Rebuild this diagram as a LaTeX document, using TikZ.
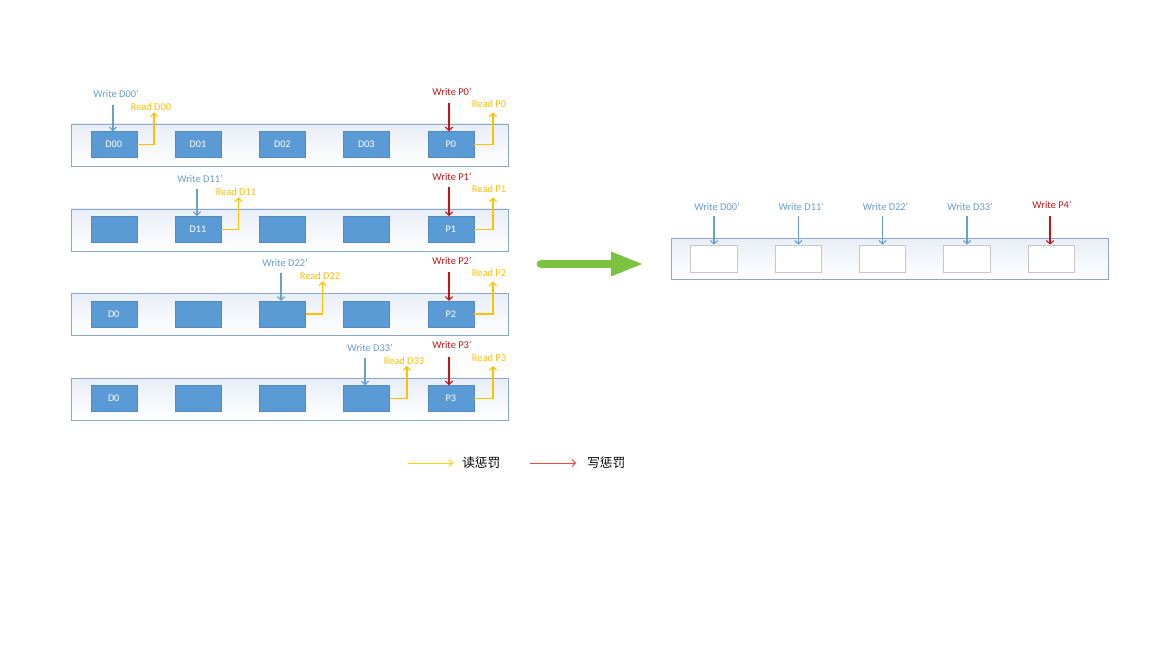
\documentclass[tikz,border=0pt]{standalone}
\usepackage{fontspec}
\setmainfont{Carlito}
\newfontfamily\cjk{Noto Sans CJK SC}
\usetikzlibrary{arrows.meta,calc}
\definecolor{boxblue}{RGB}{91,155,213}
\definecolor{wblue}{RGB}{104,158,208}
\definecolor{rorange}{RGB}{255,192,0}
\definecolor{wred}{RGB}{200,20,20}
\definecolor{frame}{RGB}{140,168,204}
\definecolor{garrow}{RGB}{126,194,66}
\definecolor{shadetop}{RGB}{232,238,246}
\tikzset{
  rowbox/.style={draw=frame, line width=0.7pt, top color=shadetop, bottom color=white, minimum width=327.75pt, minimum height=31.5pt, inner sep=0pt},
  dbox/.style={fill=boxblue, draw=boxblue!90!black, line width=0.3pt, minimum width=34.5pt, minimum height=19.5pt, inner sep=0pt, text=white, font=\fontsize{7.6}{8}\selectfont},
  ebox/.style={fill=white, draw=black!22, line width=0.7pt, minimum width=35pt, minimum height=20.5pt, inner sep=0pt},
  lab/.style={font=\fontsize{7.8}{8.5}\selectfont, inner sep=0.5pt},
  wlab/.style={lab, text=wblue},
  rlab/.style={lab, text=rorange},
  plab/.style={lab, text=wred},
  tip/.style={-{Straight Barb[length=2.6pt,width=5.5pt]}},
  warr/.style={tip, color=wblue, line width=0.8pt},
  parr/.style={tip, color=wred, line width=0.8pt},
  rarr/.style={tip, color=rorange, line width=0.8pt},
}
\begin{document}
\begin{tikzpicture}[x=0.75pt,y=-0.75pt]
\useasboundingbox (0,0) rectangle (1152,648);
\fill[white] (0,0) rectangle (1152,648);
% rows
\node[rowbox] (r1) at (289.5,145) {};
\node[rowbox] (r2) at (289.5,230) {};
\node[rowbox] (r3) at (289.5,314.5) {};
\node[rowbox] (r4) at (289.5,399) {};
% row 1
\node[dbox] (b11) at (113.7,144.5) {D00};
\node[dbox] (b12) at (198,144.5) {D01};
\node[dbox] (b13) at (282.3,144.5) {D02};
\node[dbox] (b14) at (366.3,144.5) {D03};
\node[dbox] (b15) at (450.7,144.5) {P0};
% row 2
\node[dbox] (b21) at (113.7,229.2) {};
\node[dbox] (b22) at (198,229.2) {D11};
\node[dbox] (b23) at (282.3,229.2) {};
\node[dbox] (b24) at (366.3,229.2) {};
\node[dbox] (b25) at (450.7,229.2) {P1};
% row 3
\node[dbox] (b31) at (113.7,314) {D0};
\node[dbox] (b32) at (198,314) {};
\node[dbox] (b33) at (282.3,314) {};
\node[dbox] (b34) at (366.3,314) {};
\node[dbox] (b35) at (450.7,314) {P2};
% row 4
\node[dbox] (b41) at (113.7,398.5) {D0};
\node[dbox] (b42) at (198,398.5) {};
\node[dbox] (b43) at (282.3,398.5) {};
\node[dbox] (b44) at (366.3,398.5) {};
\node[dbox] (b45) at (450.7,398.5) {P3};

% labels
\node[wlab] (w1) at (116,94) {Write D00'};
\node[rlab] (rd1) at (151,106.5) {Read D00};
\node[plab] (wp1) at (452,92) {Write P0'};
\node[rlab] (rp1) at (489,104) {Read P0};

\node[wlab] (w2) at (200,178.5) {Write D11'};
\node[rlab] (rd2) at (236,191.5) {Read D11};
\node[plab] (wp2) at (452,176.5) {Write P1'};
\node[rlab] (rp2) at (489,189) {Read P1};

\node[wlab] (w3) at (285,262.5) {Write D22'};
\node[rlab] (rd3) at (320,275.5) {Read D22};
\node[plab] (wp3) at (452,261) {Write P2'};
\node[rlab] (rp3) at (489,273) {Read P2};

\node[wlab] (w4) at (370,347.5) {Write D33'};
\node[rlab] (rd4) at (404,360.5) {Read D33};
\node[plab] (wp4) at (452,345) {Write P3'};
\node[rlab] (rp4) at (489,357.5) {Read P3};

% write arrows (data)
\coordinate (s1) at (113,105);
\coordinate (s2) at (197,189);
\coordinate (s3) at (281,273.5);
\coordinate (s4) at (365,358);
\draw[warr] (s1) -- (b11.north -| s1);
\draw[warr] (s2) -- (b22.north -| s2);
\draw[warr] (s3) -- (b33.north -| s3);
\draw[warr] (s4) -- (b44.north -| s4);
% write arrows (parity)
\coordinate (p1) at (449,103);
\coordinate (p2) at (449,187.5);
\coordinate (p3) at (449,272);
\coordinate (p4) at (449,356.5);
\draw[parr] (p1) -- (b15.north -| p1);
\draw[parr] (p2) -- (b25.north -| p2);
\draw[parr] (p3) -- (b35.north -| p3);
\draw[parr] (p4) -- (b45.north -| p4);
% read arrows (data)
\coordinate (t1) at (154,112.5);
\coordinate (t2) at (238.5,197.5);
\coordinate (t3) at (322.5,281.5);
\coordinate (t4) at (407,366);
\draw[rarr] (b11.east) -| (t1);
\draw[rarr] (b22.east) -| (t2);
\draw[rarr] (b33.east) -| (t3);
\draw[rarr] (b44.east) -| (t4);
% read arrows (parity)
\coordinate (u1) at (493,112.5);
\coordinate (u2) at (493,197.5);
\coordinate (u3) at (493,281.5);
\coordinate (u4) at (493,366);
\draw[rarr] (b15.east) -| (u1);
\draw[rarr] (b25.east) -| (u2);
\draw[rarr] (b35.east) -| (u3);
\draw[rarr] (b45.east) -| (u4);

% green arrow
\coordinate (ga) at (541,264);
\coordinate (gm) at (611,264);
\coordinate (gb) at (642,264);
\draw[garrow, line width=6.5pt, line cap=round] (ga) -- ($(gm)+(2,0)$);
\fill[garrow] ($(gm)+(0,-12.5)$) -- (gb) -- ($(gm)+(0,12.5)$) -- cycle;

% right panel
\node[rowbox, minimum width=327.5pt, minimum height=30.75pt] (rr) at (890,258.8) {};
\foreach \i/\x/\t in {1/714/Write D00',2/798.3/Write D11',3/882.6/Write D22',4/967/Write D33'}{
  \node[ebox] (e\i) at (\x,258.8) {};
  \node[wlab] (ew\i) at (\x+3,206.5) {\t};
  \coordinate (es\i) at (\x,216.5);
  \draw[warr] (es\i) -- (e\i.north -| es\i);
}
\node[ebox] (e5) at (1051.5,258.8) {};
\node[plab] (ew5) at (1052,204.5) {Write P4'};
\coordinate (es5) at (1050,216.5);
\draw[parr] (es5) -- (e5.north -| es5);

% legend
\coordinate (la) at (408,463);
\coordinate (lb) at (453,463);
\draw[tip, color=rorange!70!yellow, line width=0.7pt] (la) -- (lb);
\node[font=\cjk\fontsize{9.5}{10}\selectfont, anchor=west, inner sep=0pt] (lt1) at (462,463) {读惩罚};
\coordinate (lc) at (530,463);
\coordinate (ld) at (576,463);
\draw[tip, color=red!75!white, line width=0.7pt] (lc) -- (ld);
\node[font=\cjk\fontsize{9.5}{10}\selectfont, anchor=west, inner sep=0pt] (lt2) at (587,463) {写惩罚};
\end{tikzpicture}
\end{document}
